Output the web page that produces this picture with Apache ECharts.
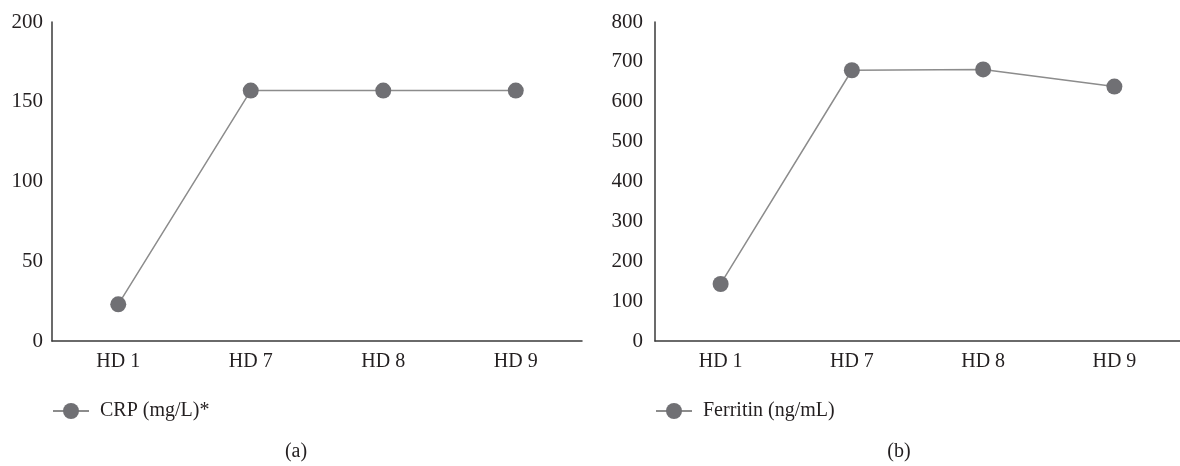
<!DOCTYPE html>
<html>
<head>
<meta charset="utf-8">
<script src="https://cdn.jsdelivr.net/npm/echarts@6/dist/echarts.min.js"></script>
<style>
html,body{margin:0;padding:0;background:#fff;}
#c{width:1180px;height:466px;}
</style>
</head>
<body>
<div id="c"></div>
<script>
const categories = ['HD 1', 'HD 7', 'HD 8', 'HD 9'];
const crpValues = [23, 157, 157, 157];
const ferritinValues = [143, 679, 681, 638];
const crpName = 'CRP (mg/L)*';
const ferritinName = 'Ferritin (ng/mL)';
const crpTicks = { min: 0, max: 200, interval: 50 };
const ferritinTicks = { min: 0, max: 800, interval: 100 };

const FONT = "'Liberation Serif', 'DejaVu Serif', serif";
const TXT = '#231f20';
const AXIS = '#3a3a3a';
const LINE = '#8c8c8c';
const MARK = '#707074';

function xAxis(gi) {
  return {
    type: 'category', gridIndex: gi, data: categories, boundaryGap: true,
    axisLine: { lineStyle: { color: AXIS, width: 1.5 } },
    axisTick: { show: false },
    axisLabel: { color: TXT, fontFamily: FONT, fontSize: 20, margin: 11 },
    splitLine: { show: false }
  };
}
function yAxis(gi, t, margin) {
  return {
    type: 'value', gridIndex: gi, min: t.min, max: t.max, interval: t.interval,
    axisLine: { show: true, lineStyle: { color: AXIS, width: 1.5 } },
    axisTick: { show: false },
    axisLabel: { color: TXT, fontFamily: FONT, fontSize: 21, margin: margin },
    splitLine: { show: false }
  };
}
function series(name, data, idx) {
  return {
    name: name, type: 'line', xAxisIndex: idx, yAxisIndex: idx, data: data,
    symbol: 'circle', symbolSize: 16,
    itemStyle: { color: MARK },
    lineStyle: { color: LINE, width: 1.5 },
    emphasis: { disabled: true },
    animation: false
  };
}

const chart = echarts.init(document.getElementById('c'), null, { renderer: 'canvas' });
chart.setOption({
  backgroundColor: '#fff',
  animation: false,
  grid: [
    { left: 52, right: 598, top: 22, bottom: 125 },
    { left: 655, right: -3, top: 22, bottom: 125 }
  ],
  xAxis: [xAxis(0), xAxis(1)],
  yAxis: [yAxis(0, crpTicks, 9), yAxis(1, ferritinTicks, 12)],
  legend: [
    { data: [crpName], left: 47, top: 396, itemWidth: 36, itemHeight: 20, itemGap: 10,
      textStyle: { color: TXT, fontFamily: FONT, fontSize: 20, padding: [0, 0, 0, 6] }, selectedMode: false },
    { data: [ferritinName], left: 650, top: 396, itemWidth: 36, itemHeight: 20, itemGap: 10,
      textStyle: { color: TXT, fontFamily: FONT, fontSize: 20, padding: [0, 0, 0, 6] }, selectedMode: false }
  ],
  title: [
    { text: '(a)', left: 291, top: 437, textAlign: 'center',
      textStyle: { color: TXT, fontFamily: FONT, fontSize: 20, fontWeight: 'normal' } },
    { text: '(b)', left: 894, top: 437, textAlign: 'center',
      textStyle: { color: TXT, fontFamily: FONT, fontSize: 20, fontWeight: 'normal' } }
  ],
  series: [series(crpName, crpValues, 0), series(ferritinName, ferritinValues, 1)]
});
</script>
</body>
</html>
